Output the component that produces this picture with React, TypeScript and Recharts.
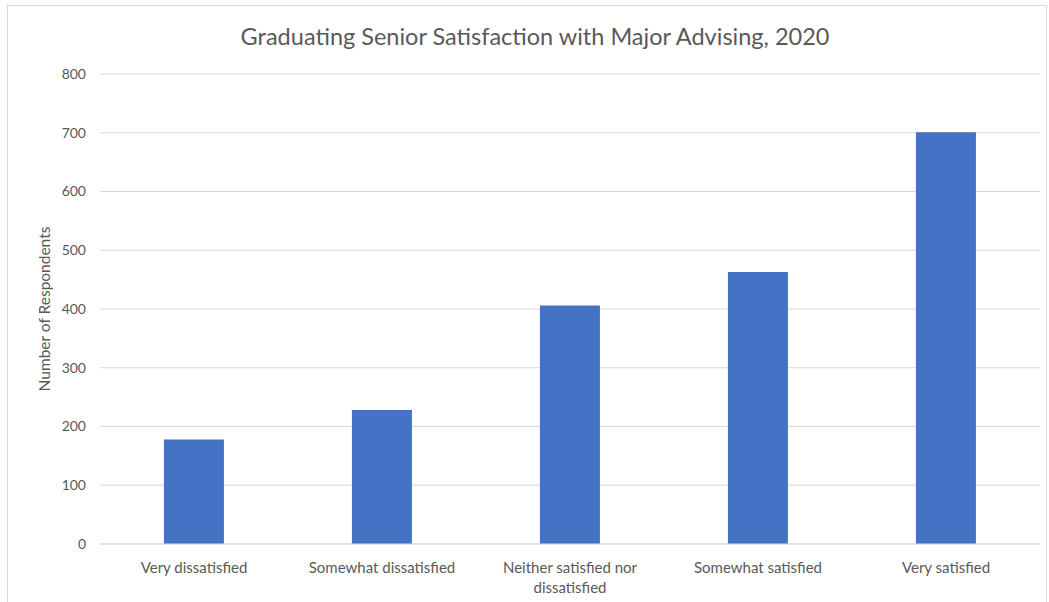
import { BarChart, Bar, XAxis, YAxis, CartesianGrid } from 'recharts';

const categories = [
  'Very dissatisfied',
  'Somewhat dissatisfied',
  'Neither satisfied nor dissatisfied',
  'Somewhat satisfied',
  'Very satisfied',
];
const respondents = [178, 228, 406, 463, 701];
const yTicks = [0, 100, 200, 300, 400, 500, 600, 700, 800];

const data = categories.map((name, i) => ({ name, value: respondents[i] }));

const FONT = 'Lato, "Open Sans", sans-serif';
const INK = '#595959';

// Excel-style wrap: break long labels into two lines
function splitLabel(s: string): string[] {
  if (s.length <= 24) return [s];
  const words = s.split(' ');
  const lines: string[] = [];
  let cur = '';
  for (const w of words) {
    const next = cur ? `${cur} ${w}` : w;
    if (next.length > 22 && cur) {
      lines.push(cur);
      cur = w;
    } else {
      cur = next;
    }
  }
  if (cur) lines.push(cur);
  return lines;
}

function CategoryTick(props: any) {
  const { x, y, payload } = props;
  const lines = splitLabel(String(payload.value));
  return (
    <text x={x} y={y} textAnchor="middle" fill={INK} fontSize={15} fontFamily={FONT}>
      {lines.map((l, i) => (
        <tspan key={i} x={x} dy={i === 0 ? 21 : 20}>
          {l}
        </tspan>
      ))}
    </text>
  );
}

export default function App() {
  return (
    <div style={{ position: 'absolute', left: 0, top: 0, width: 1049, height: 602, background: '#fff' }}>
      <div
        style={{
          position: 'absolute',
          left: 7,
          top: 5,
          width: 1040,
          height: 600,
          border: '1px solid #d9d9d9',
          boxSizing: 'border-box',
        }}
      />
      <div
        style={{
          position: 'absolute',
          left: 0,
          top: 22,
          width: 1070,
          textAlign: 'center',
          fontFamily: FONT,
          fontSize: 23.5,
          color: INK,
        }}
      >
        Graduating Senior Satisfaction with Major Advising, 2020
      </div>
      <div style={{ position: 'absolute', left: 0, top: 0 }}>
        <BarChart
          width={1049}
          height={602}
          data={data}
          margin={{ top: 74, right: 9, bottom: 0, left: 0 }}
          barCategoryGap="34%"
        >
          <CartesianGrid vertical={false} stroke="#d9d9d9" strokeWidth={1} />
          <XAxis
            dataKey="name"
            height={58}
            interval={0}
            tickLine={false}
            axisLine={{ stroke: '#d9d9d9' }}
            tick={<CategoryTick />}
          />
          <YAxis
            width={100}
            domain={[0, 800]}
            ticks={yTicks}
            tickLine={false}
            axisLine={false}
            tickMargin={8}
            tick={{ fill: INK, fontSize: 14, fontFamily: FONT }}
            label={{
              value: 'Number of Respondents',
              angle: -90,
              position: 'center',
              dx: -6,
              fill: INK,
              fontSize: 15.5,
              fontFamily: FONT,
            }}
          />
          <Bar dataKey="value" fill="#4472c4" isAnimationActive={false} />
        </BarChart>
      </div>
    </div>
  );
}
